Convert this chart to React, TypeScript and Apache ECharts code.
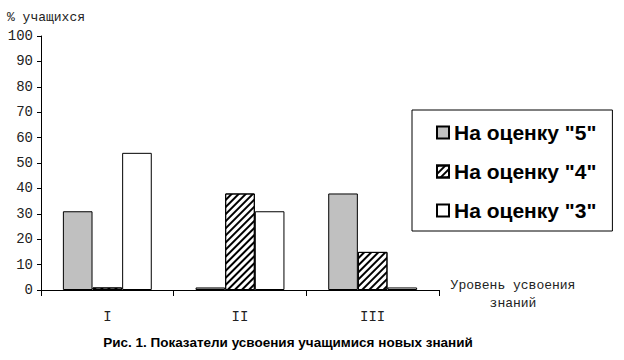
import React, { useEffect, useRef } from "react";
import * as echarts from "echarts";

const categories = ["I", "II", "III"];
const seriesNames = ['На оценку "5"', 'На оценку "4"', 'На оценку "3"'];
const grade5 = [31, 1, 38];
const grade4 = [1, 38, 15];
const grade3 = [54, 31, 1];
const yTicks = [0, 10, 20, 30, 40, 50, 60, 70, 80, 90, 100];

const MONO = "'Liberation Mono', 'DejaVu Sans Mono', monospace";
const SANS = "'Liberation Sans', Arial, sans-serif";

export default function App() {
  const ref = useRef<HTMLDivElement>(null);
  useEffect(() => {
    if (!ref.current) return;
    const chart = echarts.init(ref.current, null, { renderer: "svg" });
    const hatch = {
      symbol: "rect",
      symbolSize: 1,
      color: "#000",
      dashArrayX: [1, 0],
      dashArrayY: [2, 3],
      rotation: -Math.PI / 4,
    };
    const base = {
      type: "bar" as const,
      barGap: "0%",
      barCategoryGap: "33%",
    };
    chart.setOption({
      animation: false,
      backgroundColor: "#fff",
      grid: { left: 41, right: 185, top: 36, bottom: 70 },
      xAxis: {
        type: "category",
        data: categories,
        axisLine: { lineStyle: { color: "#000", width: 1 } },
        axisTick: { show: true, length: 6, lineStyle: { color: "#000" } },
        axisLabel: { fontFamily: MONO, fontSize: 14, color: "#222", margin: 20 },
      },
      yAxis: {
        type: "value",
        min: yTicks[0],
        max: yTicks[yTicks.length - 1],
        interval: 10,
        splitLine: { show: false },
        axisLine: { show: true, lineStyle: { color: "#000", width: 1 } },
        axisTick: { show: true, length: 4, lineStyle: { color: "#000" } },
        axisLabel: { fontFamily: MONO, fontSize: 14, color: "#222", margin: 8 },
      },
      legend: {
        orient: "vertical",
        left: 412,
        top: 110,
        padding: [12, 16, 10, 24],
        itemGap: 18,
        itemWidth: 12,
        itemHeight: 12,
        icon: "rect",
        borderColor: "#000",
        borderWidth: 1,
        textStyle: { fontFamily: SANS, fontSize: 21, fontWeight: "bold", color: "#000" },
        data: seriesNames,
      },
      series: [
        {
          ...base,
          name: seriesNames[0],
          data: grade5,
          itemStyle: { color: "#c0c0c0", borderColor: "#000", borderWidth: 1 },
        },
        {
          ...base,
          name: seriesNames[1],
          data: grade4,
          itemStyle: { color: "#fff", borderColor: "#000", borderWidth: 1, decal: hatch },
        },
        {
          ...base,
          name: seriesNames[2],
          data: grade3,
          itemStyle: { color: "#fff", borderColor: "#000", borderWidth: 1 },
        },
      ],
      graphic: [
        {
          type: "text",
          left: 7,
          top: 11,
          style: { text: "% учащихся", font: `13px ${MONO}`, fill: "#222" },
        },
        {
          type: "text",
          x: 513,
          y: 294,
          style: {
            text: "Уровень усвоения\nзнаний",
            font: `13px ${MONO}`,
            fill: "#222",
            align: "center",
            verticalAlign: "middle",
            lineHeight: 18,
          },
        },
        {
          type: "text",
          x: 288,
          y: 342,
          style: {
            text: "Рис. 1. Показатели усвоения учащимися новых знаний",
            font: `bold 13.5px ${SANS}`,
            fill: "#000",
            align: "center",
            verticalAlign: "middle",
          },
        },
      ],
    });
    return () => chart.dispose();
  }, []);
  return (
    <div
      ref={ref}
      style={{ position: "fixed", left: 0, top: 0, width: 624, height: 360 }}
    />
  );
}
